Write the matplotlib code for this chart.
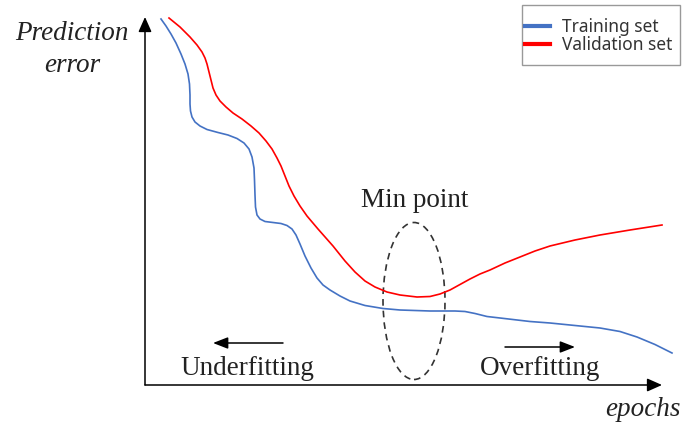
import matplotlib
matplotlib.use("Agg")
import matplotlib.pyplot as plt
from matplotlib.patches import Ellipse, Rectangle

# Data (epochs, error)
train_x = [14, 19, 24, 29, 34, 38, 41, 42.5, 43, 43, 43.5, 45, 48, 53, 60, 71, 81, 90, 97, 102,
           105, 107, 107.5, 108, 108.5, 110, 113, 118, 126, 134, 140, 145, 149, 153, 158, 164,
           170, 176, 183, 193, 203, 218, 236, 253, 283, 308, 318, 328, 340, 353, 383, 403, 428,
           453, 473, 490, 508, 525]
train_y = [366, 359, 351, 342, 331, 321, 311, 301, 290, 281, 274, 268, 263, 259, 255.5, 252.5,
           250, 246.5, 242, 236, 228, 217, 205, 190, 178, 170, 166, 163.5, 162.5, 161.5, 159.5,
           156, 150, 141, 129, 117, 107, 100, 95, 89, 84, 79.5, 76.5, 75, 74, 74, 73.5, 71.5,
           68.5, 67, 63.5, 62, 59.5, 57, 53.5, 48, 40.5, 32]
val_x = [22, 33, 43, 50, 55, 58, 60, 62, 64, 66, 69, 73, 79, 86, 95, 104, 112, 119, 125, 130,
         134, 138, 142, 147, 153, 160, 171, 186, 198, 208, 218, 228, 240, 253, 270, 283, 293,
         303, 313, 323, 333, 343, 358, 373, 388, 403, 428, 453, 483, 515]
val_y = [367, 358, 348, 340, 333, 327, 321, 313, 305, 297, 290, 284, 278, 272, 266, 259, 252,
         244, 236, 227, 219, 209, 199, 189, 179, 169, 156, 139, 124, 113, 104, 98, 93, 90, 88,
         88.5, 91, 95, 100.5, 106, 111, 115, 122, 128, 134, 139, 145, 150, 155, 160]
series_labels = ["Training set", "Validation set"]

fig = plt.figure(figsize=(6.82, 4.23), dpi=100)
ax = fig.add_axes([0, 0, 1, 1])
ax.set_xlim(-147, 535)
ax.set_ylim(-38, 385)
ax.axis("off")

ax.plot(train_x, train_y, color="#4472C4", lw=1.2, label=series_labels[0],
        solid_joinstyle="round")
ax.plot(val_x, val_y, color="#FF0000", lw=1.2, label=series_labels[1],
        solid_joinstyle="round")

# axes arrows
arrow_kw = dict(arrowstyle="-|>,head_length=0.9,head_width=0.4", color="black", lw=1.1,
                shrinkA=0, shrinkB=0)
ax.annotate("", xy=(-2, 368), xytext=(-2, 0), arrowprops=arrow_kw)
ax.annotate("", xy=(515, 0), xytext=(-2, 0), arrowprops=arrow_kw)

serif = ["Liberation Serif", "DejaVu Serif"]
fs = 19.5
ax.text(-75, 352, "Prediction", family=serif, style="italic", fontsize=fs,
        ha="center", va="center", color="#222222")
ax.text(-75, 320, "error", family=serif, style="italic", fontsize=fs,
        ha="center", va="center", color="#222222")
ax.text(534, -24, "epochs", family=serif, style="italic", fontsize=fs,
        ha="right", va="center", color="#222222")

ax.text(268, 185, "Min point", family=serif, fontsize=fs, ha="center", va="center",
        color="#222222")
ax.add_patch(Ellipse((267, 84), 62, 157, fill=False, ls=(0, (4, 3)), lw=1.2,
                     edgecolor="#333333"))

small_arrow = dict(arrowstyle="-|>,head_length=0.9,head_width=0.35", color="black", lw=1.1,
                   shrinkA=0, shrinkB=0)
ax.annotate("", xy=(66, 42), xytext=(136, 42), arrowprops=small_arrow)
ax.text(100, 17, "Underfitting", family=serif, fontsize=fs, ha="center", va="center",
        color="#222222")
ax.annotate("", xy=(428, 38), xytext=(358, 38), arrowprops=small_arrow)
ax.text(393, 17, "Overfitting", family=serif, fontsize=fs, ha="center", va="center",
        color="#222222")

# legend (frame drawn separately to get the reference padding)
ax.add_patch(Rectangle((375, 320), 158, 60, fill=False, edgecolor="#999999", lw=1.0,
                       zorder=5))
leg = ax.legend(loc="upper left", bbox_to_anchor=(525 / 682, 1 - 18 / 423),
                prop={"family": "Noto Sans", "size": 12.5}, frameon=False,
                handlelength=1.45, handletextpad=0.7, borderpad=0, labelspacing=0.0,
                borderaxespad=0)
for text in leg.get_texts():
    text.set_color("#333333")
for line in leg.get_lines():
    line.set_linewidth(3)

fig.savefig("out.png", dpi=100)
